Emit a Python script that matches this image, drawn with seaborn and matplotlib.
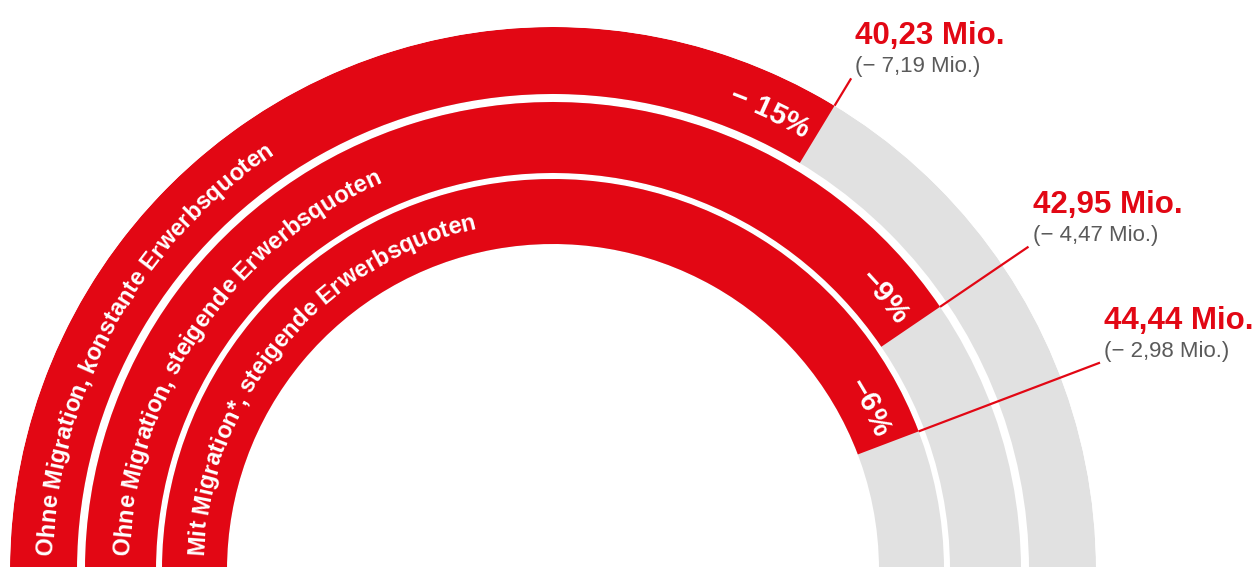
import numpy as np
import matplotlib
matplotlib.use("Agg")
import matplotlib.pyplot as plt
import seaborn as sns
from matplotlib.font_manager import FontProperties

# ---------------- data ----------------
scenarios = ["Ohne Migration, konstante Erwerbsquoten",
             "Ohne Migration, steigende Erwerbsquoten",
             "Mit Migration*, steigende Erwerbsquoten"]
values = [40.23, 42.95, 44.44]            # Erwerbspersonen, Mio.
changes = [-7.19, -4.47, -2.98]           # Veränderung, Mio.
pct_labels = ["− 15%", "−9%", "−6%"]
value_labels = ["40,23 Mio.", "42,95 Mio.", "44,44 Mio."]
change_labels = ["(− 7,19 Mio.)", "(− 4,47 Mio.)", "(− 2,98 Mio.)"]
scale_min, scale_max = 26.8, 46.74        # value range of the half circle

# ---------------- style ----------------
RED = "#E20714"
GRAY = "#E1E1E1"
SUBGRAY = "#5A5A5A"
ring_inner = [476, 397, 326]
ring_outer = [543, 468, 391]
leader_end = [575, 575, 585]

sns.set_theme(style="white")
plt.rcParams["font.family"] = ["Liberation Sans", "DejaVu Sans"]

W, H = 1258, 567
fig = plt.figure(figsize=(W / 100, H / 100), dpi=100)
fig.patch.set_facecolor("white")
R = 543
cx, cy = 553, 570  # center in pixels from top-left
cyb = H - cy       # center from bottom
# polar axes keeps a square box; the half disk sits in its middle band
ax = fig.add_axes([(cx - R) / W, (cyb - R / 2) / H, 2 * R / W, 2 * R / H], projection="polar")
ax.set_theta_zero_location("W")
ax.set_theta_direction(-1)
ax.set_thetamin(0)
ax.set_thetamax(180)


def to_theta(v):
    return (v - scale_min) / (scale_max - scale_min) * np.pi


thetas = [to_theta(v) for v in values]
r_mid = [(a + b) / 2 for a, b in zip(ring_inner, ring_outer)]
r_w = [b - a for a, b in zip(ring_inner, ring_outer)]

# background (full half circle) and value bars
ax.barh(r_mid, [np.pi] * 3, left=0, height=r_w, color=GRAY, linewidth=0)
ax.barh(r_mid, thetas, left=0, height=r_w, color=RED, linewidth=0)
ax.set_rlim(0, R)
ax.set_axis_off()

fig.canvas.draw()
renderer = fig.canvas.get_renderer()
p0 = ax.transData.transform((0, 0))
p1 = ax.transData.transform((np.pi / 2, 100))
px_per_unit = np.hypot(*(p1 - p0)) / 100.0


def arc_text(text, r_base, theta_ref, fp, color, align="start"):
    bar_w = renderer.get_text_width_height_descent("|", fp, ismath=False)[0]
    pos = [renderer.get_text_width_height_descent(text[:i] + "|", fp, ismath=False)[0] - bar_w
           for i in range(len(text) + 1)]
    total = pos[-1]
    r_px = r_base * px_per_unit
    s_ref = theta_ref * r_px
    s0 = s_ref if align == "start" else s_ref - total
    for i, ch in enumerate(text):
        if ch == " ":
            continue
        s = s0 + (pos[i] + pos[i + 1]) / 2
        th = s / r_px
        ax.text(th, r_base, ch, rotation=90 - np.degrees(th), rotation_mode="anchor",
                ha="center", va="baseline", fontproperties=fp, color=color, clip_on=False)


RING_PT, PCT_PT = 17, 21
fp_ring = FontProperties(family="Liberation Sans", weight="bold", size=RING_PT)
fp_pct = FontProperties(family="Liberation Sans", weight="bold", size=PCT_PT)
ring_px = RING_PT * 100 / 72
pct_px = PCT_PT * 100 / 72

for i in range(3):
    # scenario label along the ring
    arc_text(scenarios[i], r_mid[i] - 0.36 * ring_px / px_per_unit, 15 / (r_mid[i] * px_per_unit),
             fp_ring, "white", align="start")
    # percent label near the end of the red bar
    rb = r_mid[i] - 0.36 * pct_px / px_per_unit
    arc_text(pct_labels[i], rb, thetas[i] - 10 / (rb * px_per_unit), fp_pct, "white", align="end")
    # leader line
    ax.plot([thetas[i], thetas[i]], [ring_outer[i], leader_end[i]], color=RED, lw=1.6,
            clip_on=False, solid_capstyle="butt")
    ax.annotate(value_labels[i], xy=(thetas[i], leader_end[i]), xytext=(4, 34),
                textcoords="offset pixels", ha="left", va="baseline", color=RED,
                fontsize=22.5, fontweight="bold", annotation_clip=False)
    ax.annotate(change_labels[i], xy=(thetas[i], leader_end[i]), xytext=(4, 6),
                textcoords="offset pixels", ha="left", va="baseline", color=SUBGRAY,
                fontsize=16, annotation_clip=False)

fig.savefig("out.png", dpi=100, facecolor="white")
